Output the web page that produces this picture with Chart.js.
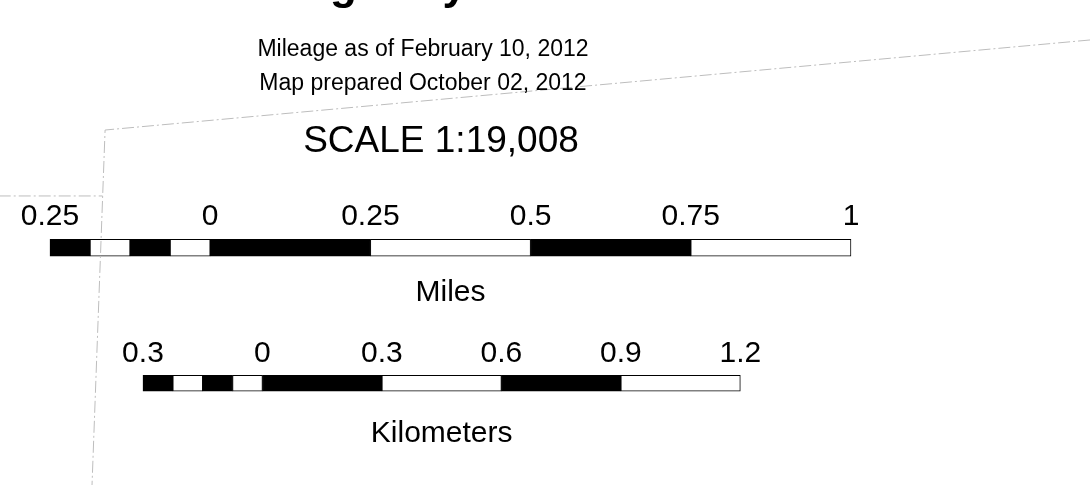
<!DOCTYPE html>
<html>
<head>
<meta charset="utf-8">
<script src="https://cdn.jsdelivr.net/npm/chart.js@4/dist/chart.umd.min.js"></script>
<style>
  body { margin: 0; background: #fff; }
  canvas { display: block; }
</style>
</head>
<body>
<canvas id="scaleChart" width="1090" height="485"></canvas>
<script>
// scale bar segments (miles), alternating black / white
const mileStarts = [-0.25, -0.1875, -0.125, -0.0625, 0, 0.25, 0.5, 0.75];
const mileEnds = [-0.1875, -0.125, -0.0625, 0, 0.25, 0.5, 0.75, 1];
const mileTicks = [-0.25, 0, 0.25, 0.5, 0.75, 1];
const mileTickLabels = ['0.25', '0', '0.25', '0.5', '0.75', '1'];

// scale bar segments (kilometers)
const kmStarts = [-0.3, -0.225, -0.15, -0.075, 0, 0.3, 0.6, 0.9];
const kmEnds = [-0.225, -0.15, -0.075, 0, 0.3, 0.6, 0.9, 1.2];
const kmTicks = [-0.3, 0, 0.3, 0.6, 0.9, 1.2];
const kmTickLabels = ['0.3', '0', '0.3', '0.6', '0.9', '1.2'];

const rows = ['Miles', 'Kilometers'];

// map boundary fragments (miles east, miles north)
const boundaryX = [1.373, -0.164, -0.1844];
const boundaryY = [0.6414, 0.5009, -0.0531];
const edgeX = [-0.33, -0.168];
const edgeY = [0.398, 0.398];

const FONT = '"Liberation Sans", Arial, sans-serif';

function segments(starts, ends, row) {
    return starts.map((s, i) => ({ x: [s, ends[i]], y: row }));
}
function segColors(n) {
    const out = [];
    for (let i = 0; i < n; i++) out.push(i % 2 === 0 ? '#000000' : '#ffffff');
    return out;
}
function points(xs, ys) {
    return xs.map((x, i) => ({ x: x, y: ys[i] }));
}

const textPlugin = {
    id: 'scaleText',
    afterDraw(chart) {
        const ctx = chart.ctx;
        const xMi = chart.scales.xMi;
        const xKm = chart.scales.xKm;
        ctx.save();
        ctx.fillStyle = '#000';
        ctx.textBaseline = 'alphabetic';

        // title sits above the frame, only its descenders show
        ctx.font = 'bold 44px ' + FONT;
        ctx.textAlign = 'left';
        ctx.fillText('Highway', 286, -1);

        ctx.textAlign = 'center';
        ctx.font = '23px ' + FONT;
        ctx.fillText('Mileage as of February 10, 2012', 423, 56);
        ctx.fillText('Map prepared October 02, 2012', 423, 90);

        ctx.font = '37px ' + FONT;
        ctx.fillText('SCALE 1:19,008', 441, 152);

        ctx.font = '30px ' + FONT;
        mileTicks.forEach((v, i) => {
            ctx.fillText(mileTickLabels[i], xMi.getPixelForValue(v), 225);
        });
        ctx.fillText('Miles', (xMi.getPixelForValue(mileStarts[0]) + xMi.getPixelForValue(1)) / 2, 301);

        kmTicks.forEach((v, i) => {
            ctx.fillText(kmTickLabels[i], xKm.getPixelForValue(v), 362);
        });
        ctx.fillText('Kilometers', (xKm.getPixelForValue(kmStarts[0]) + xKm.getPixelForValue(1.2)) / 2, 442);
        ctx.restore();
    }
};

const lineStyle = {
    type: 'line',
    xAxisID: 'xMi',
    yAxisID: 'yMap',
    borderColor: '#bdbdbd',
    borderWidth: 1,
    borderDash: [12, 3, 2, 3],
    pointRadius: 0,
    fill: false,
    clip: false,
    tension: 0
};

const hidden = { display: false, ticks: { display: false }, grid: { display: false } };

new Chart(document.getElementById('scaleChart'), {
    type: 'bar',
    data: {
        labels: rows,
        datasets: [
            Object.assign({ label: 'boundary', data: points(boundaryX, boundaryY) }, lineStyle),
            Object.assign({ label: 'edge', data: points(edgeX, edgeY) }, lineStyle),
            {
                label: 'Miles',
                indexAxis: 'y',
                xAxisID: 'xMi',
                yAxisID: 'y',
                data: segments(mileStarts, mileEnds, 'Miles'),
                backgroundColor: segColors(mileStarts.length),
                borderColor: '#000',
                borderWidth: 1,
                borderSkipped: false,
                barThickness: 17,
                grouped: false
            },
            {
                label: 'Kilometers',
                indexAxis: 'y',
                xAxisID: 'xKm',
                yAxisID: 'y',
                data: segments(kmStarts, kmEnds, 'Kilometers'),
                backgroundColor: segColors(kmStarts.length),
                borderColor: '#000',
                borderWidth: 1,
                borderSkipped: false,
                barThickness: 16,
                grouped: false
            }
        ]
    },
    options: {
        indexAxis: 'y',
        responsive: false,
        animation: false,
        layout: { autoPadding: false, padding: { left: 0, right: 0, top: 180, bottom: 34 } },
        plugins: {
            legend: { display: false },
            tooltip: { enabled: false },
            title: { display: false }
        },
        scales: {
            xMi: Object.assign({ type: 'linear', axis: 'x', offset: false, min: -0.328, max: 1.373 }, hidden),
            xKm: Object.assign({ type: 'linear', axis: 'x', offset: false, min: -0.659, max: 2.078 }, hidden),
            y: Object.assign({ type: 'category', axis: 'y', offset: true }, hidden),
            yMap: Object.assign({ type: 'linear', axis: 'y', offset: false, min: 0, max: 0.4229 }, hidden)
        }
    },
    plugins: [textPlugin]
});
</script>
</body>
</html>
